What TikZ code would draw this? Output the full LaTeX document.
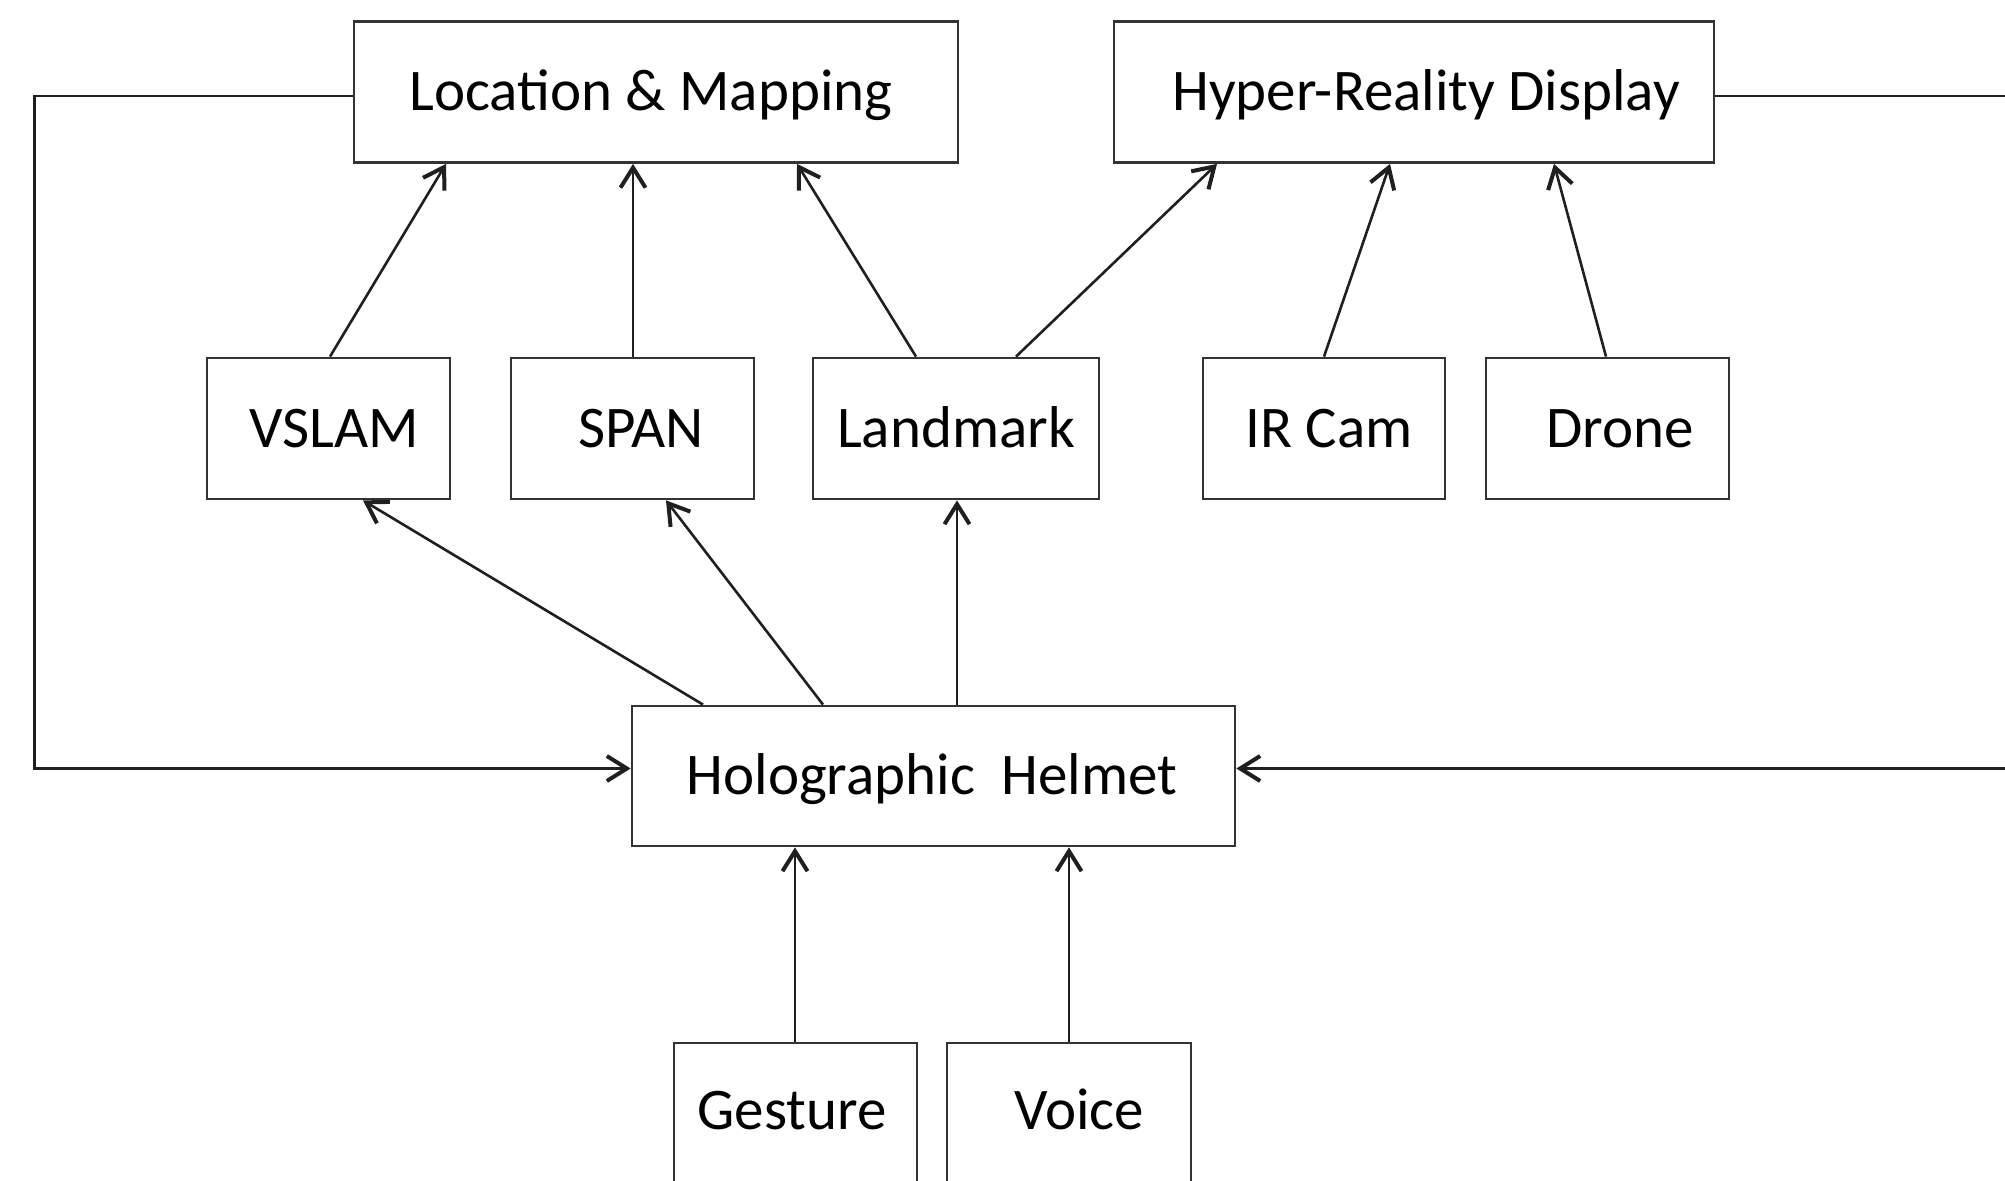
\documentclass[tikz,border=0pt]{standalone}
\usepackage{fontspec}
\setmainfont{Carlito}
\usetikzlibrary{arrows.meta}
\tikzset{
  box/.style={draw=black!80, line width=1.4pt, fill=white, inner sep=0pt, minimum height=70.5pt},
  txt/.style={inner sep=0pt, text height=21.8pt, text depth=2.95pt, font=\fontsize{29.5}{35}\selectfont},
  conn/.style={draw=black!88, line width=1.3pt},
  arr/.style={conn, -{Straight Barb[length=10pt,width=12.5pt,line width=2pt]}}
}
\begin{document}
\begin{tikzpicture}[x=0.5pt,y=-0.5pt]
\useasboundingbox (0,0) rectangle (2005,1181);
\clip (0,0) rectangle (2005,1181);
\fill[white] (0,0) rectangle (2005,1181);

% boxes
\node[box, minimum width=302pt] (loc) at (656,92) {};
\node[box, minimum width=300pt] (hrd) at (1414,92) {};
\node[box, minimum width=121.5pt] (vslam) at (328.5,428.5) {};
\node[box, minimum width=121.5pt] (span) at (632.5,428.5) {};
\node[box, minimum width=143pt] (landmark) at (956,428.5) {};
\node[box, minimum width=121pt] (ircam) at (1324,428.5) {};
\node[box, minimum width=121.5pt] (drone) at (1607.5,428.5) {};
\node[box, minimum width=301.5pt, minimum height=70pt] (helmet) at (933.5,776) {};
\node[box, minimum width=121.5pt, minimum height=71pt] (gesture) at (795.5,1114) {};
\node[box, minimum width=122pt, minimum height=71pt] (voice) at (1069,1114) {};

% texts
\node[txt] (loct) at ([shift={(-5,0)}]loc.center) {Location \& Mapping};
\node[txt] (hrdt) at ([shift={(12,0)}]hrd.center) {Hyper-Reality Display};
\node[txt] (vslamt) at ([shift={(5.5,0)}]vslam.center) {VSLAM};
\node[txt] (spant) at ([shift={(8.5,0)}]span.center) {SPAN};
\node[txt] (landmarkt) at (landmark.center) {Landmark};
\node[txt] (ircamt) at ([shift={(5,0)}]ircam.center) {IR Cam};
\node[txt] (dronet) at ([shift={(12.5,0)}]drone.center) {Drone};
\node[txt] (helmett) at ([shift={(-1.5,0)}]helmet.center) {Holographic\ \ Helmet};
\node[txt] (gesturet) at ([shift={(-3.5,-3)}]gesture.center) {Gesture};
\node[txt] (voicet) at ([shift={(10,-3)}]voice.center) {Voice};

% connectors to Location & Mapping
\draw[arr] ([shift={(1.5,0)}]vslam.north) -- ([shift={(-210,0)}]loc.south);
\draw[arr] ([shift={(0.5,0)}]span.north) -- ([shift={(-23,0)}]loc.south);
\draw[arr] ([shift={(-40,0)}]landmark.north) -- ([shift={(141,0)}]loc.south);
% connectors to Hyper-Reality Display
\draw[arr] ([shift={(60,0)}]landmark.north) -- ([shift={(-197,0)}]hrd.south);
\draw[arr] (ircam.north) -- ([shift={(-24,0)}]hrd.south);
\draw[arr] ([shift={(-1.5,0)}]drone.north) -- ([shift={(140,0)}]hrd.south);
% from helmet
\draw[arr] ([shift={(-230.5,0)}]helmet.north) -- ([shift={(34.5,0)}]vslam.south);
\draw[arr] ([shift={(-110.5,0)}]helmet.north) -- ([shift={(33.5,0)}]span.south);
\draw[arr] ([shift={(23.5,0)}]helmet.north) -- ([shift={(1,0)}]landmark.south);
% into helmet
\draw[arr] ([shift={(-0.5,0)}]gesture.north) -- ([shift={(-138.5,0)}]helmet.south);
\draw[arr] (voice.north) -- ([shift={(135.5,0)}]helmet.south);
% feedback loops
\draw[arr] ([shift={(0,4)}]loc.west) -- ++(-318,0) |- ([shift={(0,-7.5)}]helmet.west);
\draw[arr] ([shift={(0,4)}]hrd.east) -- ++(320,0) |- ([shift={(0,-7.5)}]helmet.east);
\end{tikzpicture}
\end{document}
